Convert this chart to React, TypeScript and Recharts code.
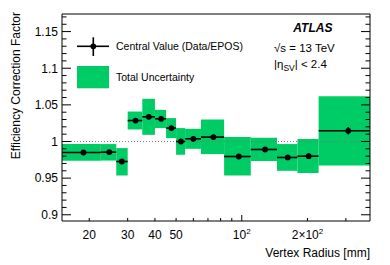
import React from "react";
import {
  ComposedChart,
  XAxis,
  YAxis,
  Scatter,
  ErrorBar,
  ReferenceArea,
  ReferenceLine,
} from "recharts";

// ---- data ----
const binLow = [15, 22.6, 26.6, 30, 35, 40, 45, 50, 55, 65, 83, 110, 145, 180, 225];
const binHigh = [22.6, 26.6, 30, 35, 40, 45, 50, 55, 65, 83, 110, 145, 180, 225, 387];
const binCenter = [18.8, 24.7, 28.2, 32.6, 37.5, 42.7, 47.6, 52.6, 60, 74.1, 96.9, 127.9, 162.4, 202.7, 307.6];
const centralValue = [0.985, 0.9855, 0.9727, 1.0286, 1.0337, 1.031, 1.0183, 1.0, 1.0037, 1.006, 0.9795, 0.9891, 0.9782, 0.98, 1.0146];
const statError = [0.002, 0.002, 0.003, 0.002, 0.002, 0.002, 0.002, 0.003, 0.002, 0.002, 0.002, 0.002, 0.002, 0.004, 0.005];
const uncLow = [0.9737, 0.974, 0.9536, 1.0164, 1.0091, 1.0183, 1.0046, 0.9819, 0.99, 0.9828, 0.9536, 0.9733, 0.96, 0.9569, 0.9673];
const uncHigh = [0.9965, 0.9965, 0.991, 1.0409, 1.0582, 1.0432, 1.0319, 1.0183, 1.0173, 1.03, 1.006, 1.005, 0.9965, 1.0033, 1.0619];

const xTicks = [20, 30, 40, 50, 60, 70, 80, 90, 100, 200, 300];
const xTickLabels = ["20", "30", "40", "50", "", "", "", "", "10^2", "2×10^2", ""];
const yTicks = [
  0.9, 0.91, 0.92, 0.93, 0.94, 0.95, 0.96, 0.97, 0.98, 0.99, 1.0, 1.01, 1.02, 1.03,
  1.04, 1.05, 1.06, 1.07, 1.08, 1.09, 1.1, 1.11, 1.12, 1.13, 1.14, 1.15, 1.16, 1.17,
];
const yMajorTicks = [0.9, 0.95, 1.0, 1.05, 1.1, 1.15];
const yTickLabels = ["0.9", "0.95", "1", "1.05", "1.1", "1.15"];

const xDomain = [15, 387];
const yDomain = [0.8915, 1.174];

const points = binCenter.map((x, i) => ({ x, y: centralValue[i], err: statError[i] }));

const FONT = "'Liberation Sans', Arial, Helvetica, sans-serif";
const GREEN = "#00cc66";

const isMajorY = (v: number) => yMajorTicks.some((m) => Math.abs(m - v) < 1e-6);

const renderLabel = (label: string, x: number, y: number) => {
  if (!label) return null;
  const parts = label.split("^");
  return (
    <text x={x} y={y} textAnchor="middle" fontSize={12} fontFamily={FONT} fill="#000">
      <tspan>{parts[0]}</tspan>
      {parts[1] ? (
        <tspan dy={-5} fontSize={8}>
          {parts[1]}
        </tspan>
      ) : null}
    </text>
  );
};

const XTickBottom = (props: any) => {
  const { x, y, payload } = props;
  const v = payload.value;
  const idx = xTicks.indexOf(v);
  const len = v === 100 ? 6 : 3;
  return (
    <g>
      <line x1={x} x2={x} y1={y} y2={y - len} stroke="#000" strokeWidth={1} />
      {renderLabel(idx >= 0 ? xTickLabels[idx] : "", x, y + 18)}
    </g>
  );
};

const XTickTop = (props: any) => {
  const { x, y, payload } = props;
  const len = payload.value === 100 ? 6 : 3;
  return <line x1={x} x2={x} y1={y} y2={y + len} stroke="#000" strokeWidth={1} />;
};

const YTickLeft = (props: any) => {
  const { x, y, payload } = props;
  const v = payload.value;
  const major = isMajorY(v);
  const idx = yMajorTicks.findIndex((m) => Math.abs(m - v) < 1e-6);
  return (
    <g>
      <line x1={x} x2={x + (major ? 9 : 4.5)} y1={y} y2={y} stroke="#000" strokeWidth={1} />
      {major ? (
        <text x={x - 4} y={y + 4.3} textAnchor="end" fontSize={12} fontFamily={FONT} fill="#000">
          {yTickLabels[idx]}
        </text>
      ) : null}
    </g>
  );
};

const YTickRight = (props: any) => {
  const { x, y, payload } = props;
  const major = isMajorY(payload.value);
  return <line x1={x} x2={x - (major ? 9 : 4.5)} y1={y} y2={y} stroke="#000" strokeWidth={1} />;
};

export default function App() {
  return (
    <div style={{ position: "absolute", left: 0, top: 0, width: 390, height: 265, background: "#fff" }}>
      <ComposedChart
        width={390}
        height={265}
        margin={{ top: 13, right: 19, bottom: 43, left: 61 }}
        style={{ fontFamily: FONT }}
      >
        <XAxis
          dataKey="x"
          type="number"
          scale="log"
          domain={xDomain}
          allowDataOverflow
          ticks={xTicks}
          interval={0}
          height={1}
          tickSize={0}
          tickMargin={0}
          tickLine={false}
          axisLine={{ stroke: "#000", strokeWidth: 1 }}
          tick={(p: any) => <XTickBottom {...p} />}
        />
        <XAxis
          xAxisId="top"
          orientation="top"
          type="number"
          scale="log"
          domain={xDomain}
          allowDataOverflow
          ticks={xTicks}
          interval={0}
          height={1}
          tickSize={0}
          tickMargin={0}
          tickLine={false}
          axisLine={{ stroke: "#000", strokeWidth: 1 }}
          tick={(p: any) => <XTickTop {...p} />}
        />
        <YAxis
          dataKey="y"
          type="number"
          domain={yDomain}
          allowDataOverflow
          ticks={yTicks}
          interval={0}
          width={1}
          tickSize={0}
          tickMargin={0}
          tickLine={false}
          axisLine={{ stroke: "#000", strokeWidth: 1 }}
          tick={(p: any) => <YTickLeft {...p} />}
        />
        <YAxis
          yAxisId="right"
          orientation="right"
          type="number"
          domain={yDomain}
          allowDataOverflow
          ticks={yTicks}
          interval={0}
          width={1}
          tickSize={0}
          tickMargin={0}
          tickLine={false}
          axisLine={{ stroke: "#000", strokeWidth: 1 }}
          tick={(p: any) => <YTickRight {...p} />}
        />
        {binLow.map((lo, i) => (
          <ReferenceArea
            key={"a" + i}
            x1={lo}
            x2={binHigh[i]}
            y1={uncLow[i]}
            y2={uncHigh[i]}
            fill={GREEN}
            fillOpacity={1}
            stroke="none"
            ifOverflow="visible"
          />
        ))}
        <ReferenceLine y={1} stroke="#777" strokeWidth={1} strokeDasharray="1 2" />
        {binLow.map((lo, i) => (
          <ReferenceLine
            key={"h" + i}
            segment={[
              { x: lo, y: centralValue[i] },
              { x: binHigh[i], y: centralValue[i] },
            ]}
            stroke="#000"
            strokeWidth={1.6}
            ifOverflow="visible"
          />
        ))}
        <Scatter
          data={points}
          dataKey="y"
          isAnimationActive={false}
          fill="#000"
          shape={(p: any) => <circle cx={p.cx} cy={p.cy} r={2.9} fill="#000" />}
        >
          <ErrorBar dataKey="err" direction="y" width={0} stroke="#000" strokeWidth={1.6} />
        </Scatter>
      </ComposedChart>
      <svg
        width={390}
        height={265}
        style={{ position: "absolute", left: 0, top: 0, pointerEvents: "none" }}
        fontFamily={FONT}
      >
        <text
          transform="translate(20,12) rotate(-90)"
          textAnchor="end"
          fontSize={12}
          fill="#000"
        >
          Efficiency Correction Factor
        </text>
        <text x={370} y={257} textAnchor="end" fontSize={12} fill="#000">
          Vertex Radius [mm]
        </text>
        {/* legend */}
        <line x1={77} x2={109} y1={46.3} y2={46.3} stroke="#000" strokeWidth={1.6} />
        <line x1={93.3} x2={93.3} y1={37.3} y2={56} stroke="#000" strokeWidth={1.6} />
        <circle cx={93.3} cy={46.3} r={2.9} fill="#000" />
        <text x={116} y={50.2} fontSize={10.5} fill="#000">
          Central Value (Data/EPOS)
        </text>
        <rect x={77} y={66} width={32} height={22.3} fill={GREEN} />
        <text x={116} y={81} fontSize={10.5} fill="#000">
          Total Uncertainty
        </text>
        {/* annotations */}
        <text x={293.3} y={32} fontSize={12} fontWeight="bold" fontStyle="italic" fill="#000">
          ATLAS
        </text>
        <text x={274} y={52} fontSize={11.5} fill="#000">
          √s = 13 TeV
        </text>
        <text x={274} y={68} fontSize={11.5} fill="#000">
          |η<tspan dy={3} fontSize={8.5}>SV</tspan>
          <tspan dy={-3}>| &lt; 2.4</tspan>
        </text>
      </svg>
    </div>
  );
}
